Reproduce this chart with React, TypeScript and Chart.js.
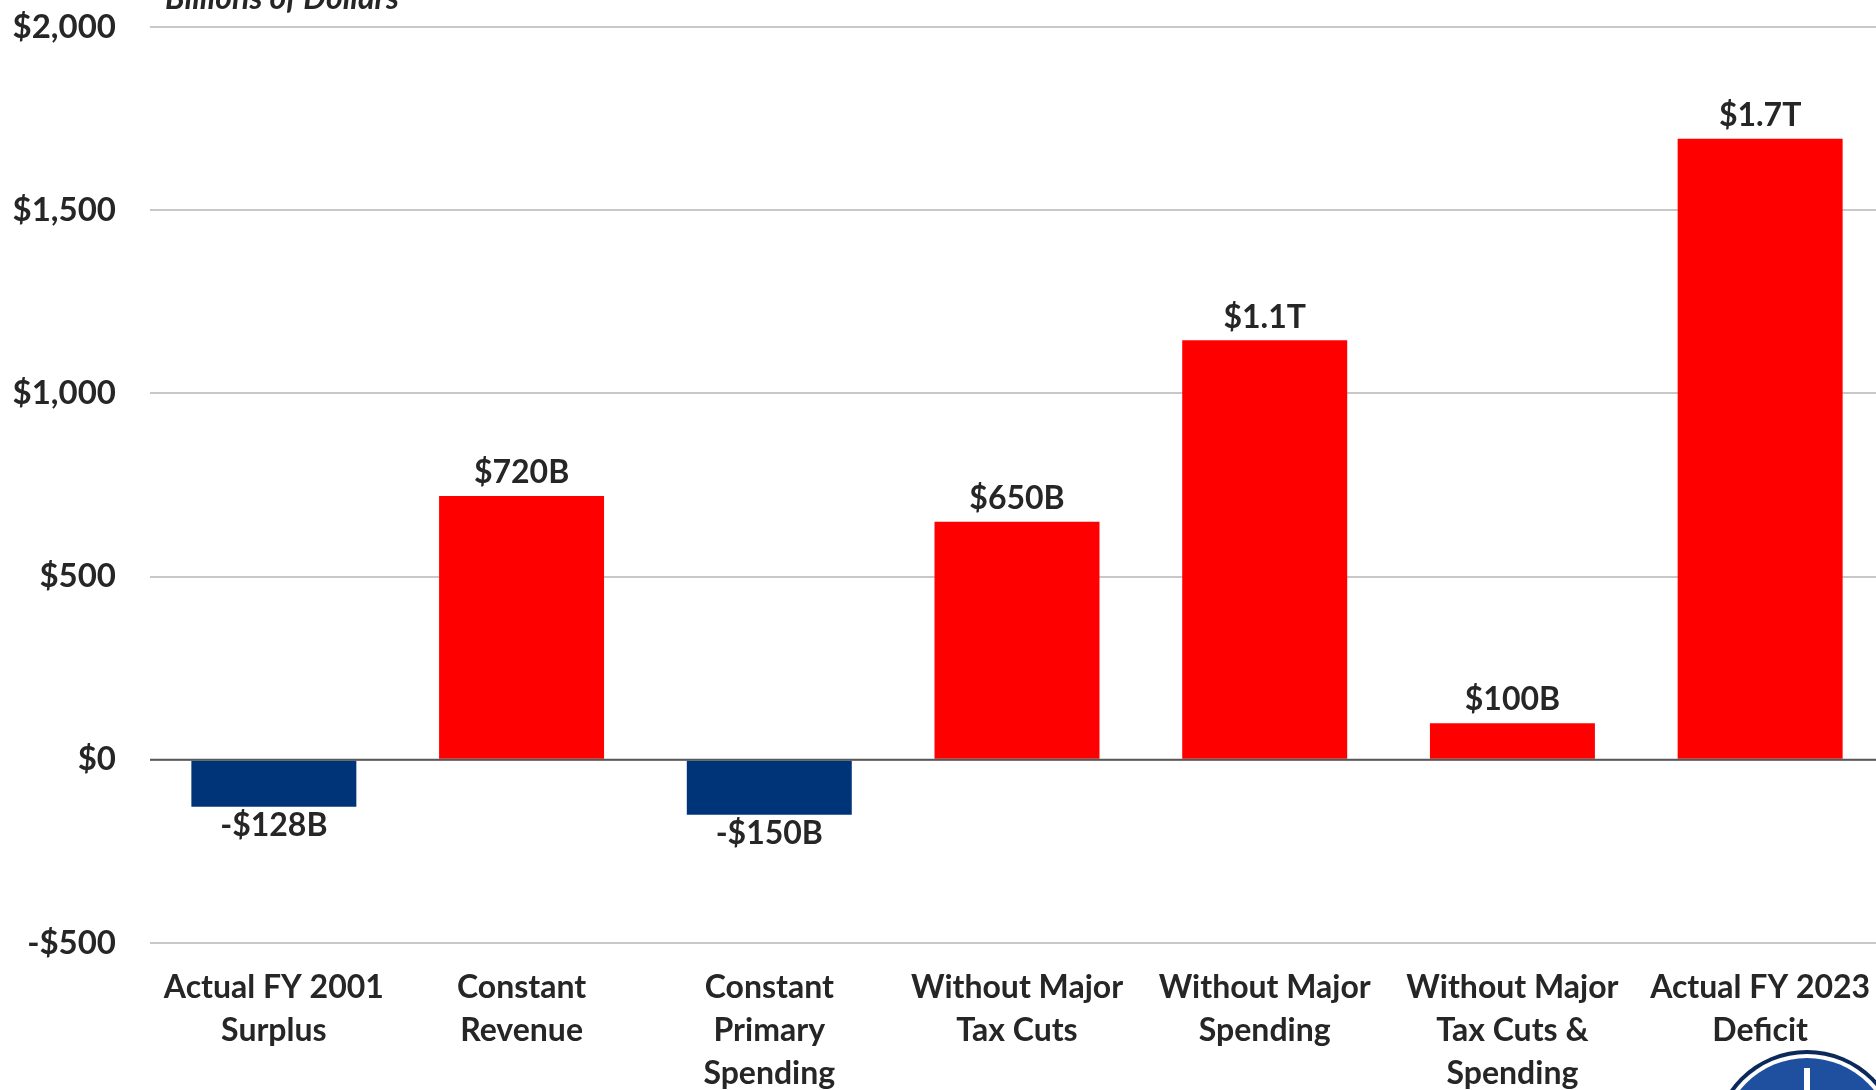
import React, { useEffect, useRef } from "react";
import { Chart, registerables } from "chart.js";

Chart.register(...registerables);

const categories: string[][] = [
  ["Actual FY 2001", "Surplus"],
  ["Constant", "Revenue"],
  ["Constant", "Primary", "Spending"],
  ["Without Major", "Tax Cuts"],
  ["Without Major", "Spending"],
  ["Without Major", "Tax Cuts &", "Spending"],
  ["Actual FY 2023", "Deficit"],
];
const values: number[] = [-128, 720, -150, 650, 1145, 100, 1695];
const valueLabels: string[] = ["-$128B", "$720B", "-$150B", "$650B", "$1.1T", "$100B", "$1.7T"];
const yMin = -500;
const yMax = 2000;
const yStep = 500;
const unitTitle = "Billions of Dollars";

const RED = "#FF0000";
const NAVY = "#003478";
const TEXT = "#262626";
const FONT = "Lato";

function fmtDollar(v: number): string {
  const s = "$" + Math.abs(v).toLocaleString("en-US");
  return v < 0 ? "-" + s : s;
}

export default function App() {
  const ref = useRef<HTMLCanvasElement | null>(null);
  useEffect(() => {
    if (!ref.current) return;
    const extras = {
      id: "extras",
      afterDatasetsDraw(chart: any) {
        const { ctx, chartArea, scales } = chart;
        const y0 = scales.y.getPixelForValue(0);
        ctx.save();
        ctx.strokeStyle = "#595959";
        ctx.lineWidth = 2;
        ctx.beginPath();
        ctx.moveTo(chartArea.left, y0);
        ctx.lineTo(chartArea.right, y0);
        ctx.stroke();
        const meta = chart.getDatasetMeta(0);
        ctx.fillStyle = TEXT;
        ctx.font = `bold 32px ${FONT}`;
        ctx.textAlign = "center";
        ctx.textBaseline = "middle";
        meta.data.forEach((el: any, i: number) => {
          const v = values[i];
          const y = v >= 0 ? el.y - 23 : el.y + 19;
          ctx.fillText(valueLabels[i], el.x, y);
        });
        ctx.restore();
      },
      afterDraw(chart: any) {
        const { ctx } = chart;
        ctx.save();
        ctx.fillStyle = TEXT;
        ctx.font = `italic bold 32px ${FONT}`;
        ctx.textAlign = "left";
        ctx.textBaseline = "alphabetic";
        ctx.fillText(unitTitle, 165, 9);
        // seal
        const cx = 1807, cy = 1144, r = 94;
        ctx.beginPath();
        ctx.arc(cx, cy, r, 0, Math.PI * 2);
        ctx.fillStyle = "#0b2a5b";
        ctx.fill();
        ctx.beginPath();
        ctx.arc(cx, cy, r - 4, 0, Math.PI * 2);
        ctx.fillStyle = "#ffffff";
        ctx.fill();
        ctx.beginPath();
        ctx.arc(cx, cy, r - 8, 0, Math.PI * 2);
        ctx.fillStyle = "#1f4f9f";
        ctx.fill();
        ctx.fillStyle = "#ffffff";
        ctx.fillRect(cx - 3, cy - r + 18, 6, 30);
        ctx.restore();
      },
    };
    const chart = new Chart(ref.current, {
      type: "bar",
      data: {
        labels: categories,
        datasets: [
          {
            data: values,
            backgroundColor: values.map((v) => (v < 0 ? NAVY : RED)),
            borderWidth: 0,
            barPercentage: 0.666,
            categoryPercentage: 1,
          },
        ],
      },
      options: {
        responsive: false,
        animation: false,
        layout: { padding: { top: 27, left: 0, right: 0, bottom: 0 } },
        plugins: { legend: { display: false }, tooltip: { enabled: false }, title: { display: false } },
        scales: {
          x: {
            grid: { display: false, drawTicks: false },
            border: { display: false },
            ticks: {
              color: TEXT,
              font: { family: FONT, size: 32, weight: "bold", lineHeight: 1.34 },
              padding: 23,
              maxRotation: 0,
              autoSkip: false,
            },
            afterFit(scale: any) {
              scale.height = 147;
              scale.paddingLeft = 0;
              scale.paddingRight = 0;
            },
          },
          y: {
            min: yMin,
            max: yMax,
            grid: {
              color: "#c8c8c8",
              lineWidth: 2,
              drawTicks: false,
            },
            border: { display: false },
            ticks: {
              stepSize: yStep,
              color: TEXT,
              padding: 34,
              font: { family: FONT, size: 33, weight: "bold" },
              callback: (v: any) => fmtDollar(Number(v)),
            },
            afterFit(scale: any) {
              scale.width = 150;
              scale.paddingTop = 0;
              scale.paddingBottom = 0;
            },
          },
        },
      },
      plugins: [extras],
    });
    return () => chart.destroy();
  }, []);
  return (
    <div style={{ position: "fixed", left: 0, top: 0, width: 1876, height: 1090, overflow: "hidden", background: "#fff" }}>
      <canvas ref={ref} width={1884} height={1090} style={{ width: 1884, height: 1090, display: "block" }} />
    </div>
  );
}
